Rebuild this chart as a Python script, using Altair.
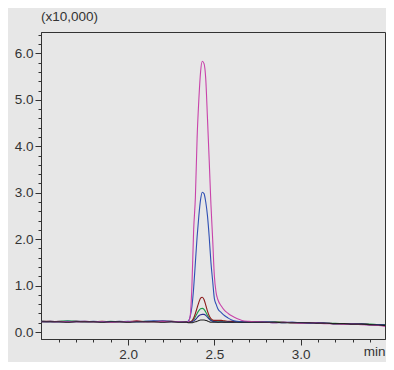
import altair as alt
import pandas as pd

# shared retention-time grid (min)
x_left = [1.50, 1.55, 1.60, 1.65, 1.70, 1.75, 1.80, 1.85, 1.90, 1.95, 2.00, 2.05,
          2.10, 2.15, 2.20, 2.25, 2.30, 2.34]
x_peak = [2.35, 2.36, 2.37, 2.38, 2.39, 2.40, 2.41, 2.42, 2.43, 2.44, 2.45, 2.46,
          2.47, 2.48, 2.49, 2.50, 2.51, 2.52, 2.54, 2.56, 2.58, 2.60, 2.63, 2.66, 2.70]
x_right = [2.75, 2.80, 2.85, 2.90, 2.95, 3.00, 3.05, 3.10, 3.15, 3.20, 3.25, 3.30,
           3.35, 3.40, 3.45, 3.49]

# intensities (x10,000)
magenta = ([0.22, 0.22, 0.23, 0.22, 0.22, 0.23, 0.22, 0.22, 0.21, 0.22, 0.22, 0.23, 0.22, 0.22, 0.23, 0.22, 0.22, 0.21]
           + [0.22, 0.35, 1.00, 2.20, 2.90, 4.18, 5.00, 5.60, 5.83, 5.78, 5.45, 4.60, 3.70, 2.75, 2.00, 1.20, 0.85, 0.70,
              0.56, 0.46, 0.40, 0.35, 0.29, 0.25, 0.23]
           + [0.22, 0.21, 0.20, 0.21, 0.20, 0.19, 0.20, 0.19, 0.18, 0.18, 0.17, 0.17, 0.16, 0.15, 0.14, 0.12])
blue = ([0.23, 0.22, 0.22, 0.23, 0.22, 0.22, 0.23, 0.22, 0.22, 0.22, 0.23, 0.22, 0.23, 0.24, 0.22, 0.22, 0.22, 0.21]
        + [0.24, 0.33, 0.55, 0.95, 1.50, 2.05, 2.50, 2.85, 3.01, 2.98, 2.80, 2.50, 2.05, 1.50, 1.10, 0.72, 0.60, 0.50,
           0.42, 0.35, 0.30, 0.26, 0.23, 0.22, 0.22]
        + [0.21, 0.22, 0.21, 0.20, 0.21, 0.20, 0.20, 0.19, 0.19, 0.18, 0.18, 0.17, 0.17, 0.16, 0.15, 0.14])
darkred = ([0.23, 0.23, 0.22, 0.22, 0.23, 0.22, 0.22, 0.23, 0.22, 0.22, 0.22, 0.24, 0.22, 0.22, 0.22, 0.23, 0.22, 0.22]
           + [0.21, 0.22, 0.24, 0.30, 0.40, 0.52, 0.64, 0.73, 0.75, 0.70, 0.58, 0.45, 0.35, 0.29, 0.26, 0.25, 0.25, 0.25,
              0.25, 0.24, 0.23, 0.23, 0.22, 0.22, 0.22]
           + [0.22, 0.21, 0.21, 0.21, 0.20, 0.20, 0.20, 0.20, 0.19, 0.18, 0.18, 0.17, 0.17, 0.16, 0.15, 0.14])
green = ([0.23, 0.22, 0.23, 0.24, 0.23, 0.22, 0.22, 0.22, 0.23, 0.22, 0.22, 0.22, 0.23, 0.22, 0.23, 0.22, 0.22, 0.22]
         + [0.21, 0.22, 0.23, 0.27, 0.33, 0.40, 0.46, 0.50, 0.51, 0.49, 0.43, 0.36, 0.30, 0.26, 0.24, 0.23, 0.22, 0.22,
            0.22, 0.22, 0.21, 0.22, 0.22, 0.21, 0.22]
         + [0.21, 0.21, 0.22, 0.21, 0.20, 0.20, 0.19, 0.20, 0.19, 0.19, 0.18, 0.18, 0.17, 0.17, 0.16, 0.16])
navy = ([0.22, 0.23, 0.22, 0.22, 0.23, 0.23, 0.22, 0.22, 0.22, 0.23, 0.22, 0.22, 0.22, 0.23, 0.24, 0.23, 0.22, 0.21]
        + [0.21, 0.21, 0.22, 0.24, 0.27, 0.31, 0.35, 0.37, 0.38, 0.38, 0.36, 0.32, 0.28, 0.25, 0.23, 0.22, 0.22, 0.21,
           0.22, 0.21, 0.22, 0.21, 0.22, 0.21, 0.21]
        + [0.22, 0.21, 0.20, 0.21, 0.21, 0.20, 0.19, 0.20, 0.19, 0.18, 0.18, 0.18, 0.17, 0.16, 0.16, 0.15])
black = ([0.22, 0.22, 0.22, 0.21, 0.22, 0.22, 0.22, 0.21, 0.22, 0.22, 0.21, 0.22, 0.22, 0.22, 0.21, 0.22, 0.21, 0.21]
         + [0.20, 0.20, 0.20, 0.21, 0.22, 0.23, 0.25, 0.26, 0.26, 0.26, 0.25, 0.24, 0.22, 0.21, 0.21, 0.21, 0.21, 0.21,
            0.21, 0.21, 0.21, 0.21, 0.21, 0.21, 0.21]
         + [0.21, 0.21, 0.21, 0.20, 0.20, 0.20, 0.20, 0.19, 0.19, 0.18, 0.18, 0.17, 0.17, 0.16, 0.15, 0.14])

series_names = ["green", "darkred", "navy", "blue", "magenta", "black"]
series_values = [green, darkred, navy, blue, magenta, black]
series_colors = ["#1e9a4a", "#8c1a1a", "#303090", "#3050b4", "#c843aa", "#222222"]

x_all = x_left + x_peak + x_right
rows = []
for i, (name, vals) in enumerate(zip(series_names, series_values)):
    for xv, yv in zip(x_all, vals):
        rows.append({"t": xv, "v": yv, "s": name, "o": i})
df = pd.DataFrame(rows)

# axis tick positions (majors labelled, minors unlabelled)
x_ticks = [1.6, 1.7, 1.8, 1.9, 2.0, 2.1, 2.2, 2.3, 2.4, 2.5, 2.6, 2.7, 2.8, 2.9,
           3.0, 3.1, 3.2, 3.3, 3.4, 3.488]
y_ticks = [0.0, 0.2, 0.4, 0.6, 0.8, 1.0, 1.2, 1.4, 1.6, 1.8, 2.0, 2.2, 2.4, 2.6, 2.8,
           3.0, 3.2, 3.4, 3.6, 3.8, 4.0, 4.2, 4.4, 4.6, 4.8, 5.0, 5.2, 5.4, 5.6, 5.8,
           6.0, 6.2, 6.4]

xscale = alt.Scale(domain=[1.496, 3.488], nice=False, zero=False)
yscale = alt.Scale(domain=[-0.15, 6.46], nice=False, zero=False)
font = "Liberation Sans"
axis_color = "#333333"
fs = 13.5

x_major_test = "abs(datum.value * 2 - round(datum.value * 2)) < 0.01"
y_major_test = "abs(datum.value - round(datum.value)) < 0.01"

lines = alt.Chart(df).mark_line(strokeWidth=1.1, interpolate="monotone", clip=True).encode(
    x=alt.X("t:Q", scale=xscale, title=None,
            axis=alt.Axis(values=x_ticks, orient="bottom", grid=False,
                          tickSize={"condition": {"test": x_major_test, "value": 6}, "value": 3},
                          labelExpr="datum.value > 3.45 ? 'min' : (" + x_major_test + " ? format(datum.value, '.1f') : '')",
                          labelAlign={"condition": {"test": "datum.value > 3.45", "value": "right"}, "value": "center"},
                          tickColor={"condition": {"test": "datum.value > 3.45", "value": "transparent"}, "value": axis_color},
                          labelFlush=False, labelOverlap=False, labelPadding=2, labelFont=font, labelFontSize=fs,
                          labelColor=axis_color, domainColor=axis_color)),
    y=alt.Y("v:Q", scale=yscale, title=None,
            axis=alt.Axis(values=y_ticks, orient="left", grid=False,
                          tickSize={"condition": {"test": y_major_test, "value": 6}, "value": 3},
                          labelExpr="(" + y_major_test + ") ? format(datum.value, '.1f') : ''",
                          labelPadding=2, labelFont=font, labelFontSize=fs, labelFlush=False, labelOverlap=False,
                          labelColor=axis_color, tickColor=axis_color, domainColor=axis_color)),
    color=alt.Color("s:N", scale=alt.Scale(domain=series_names, range=series_colors), legend=None),
    order=alt.Order("o:Q"),
)

chart = lines.properties(
    width=344, height=307,
    autosize=alt.AutoSizeParams(type="none"),
    padding={"left": 33, "top": 24, "right": 1, "bottom": 23},
    background="#e7e7e7",
    title=alt.TitleParams("(x10,000)", anchor="start", frame="group", font=font, fontSize=fs,
                          fontWeight="normal", color=axis_color, offset=4),
).configure_view(stroke=axis_color, strokeWidth=1, fill="#e7e7e7")

chart.save("out.html", embed_options={"renderer": "svg", "actions": False})
